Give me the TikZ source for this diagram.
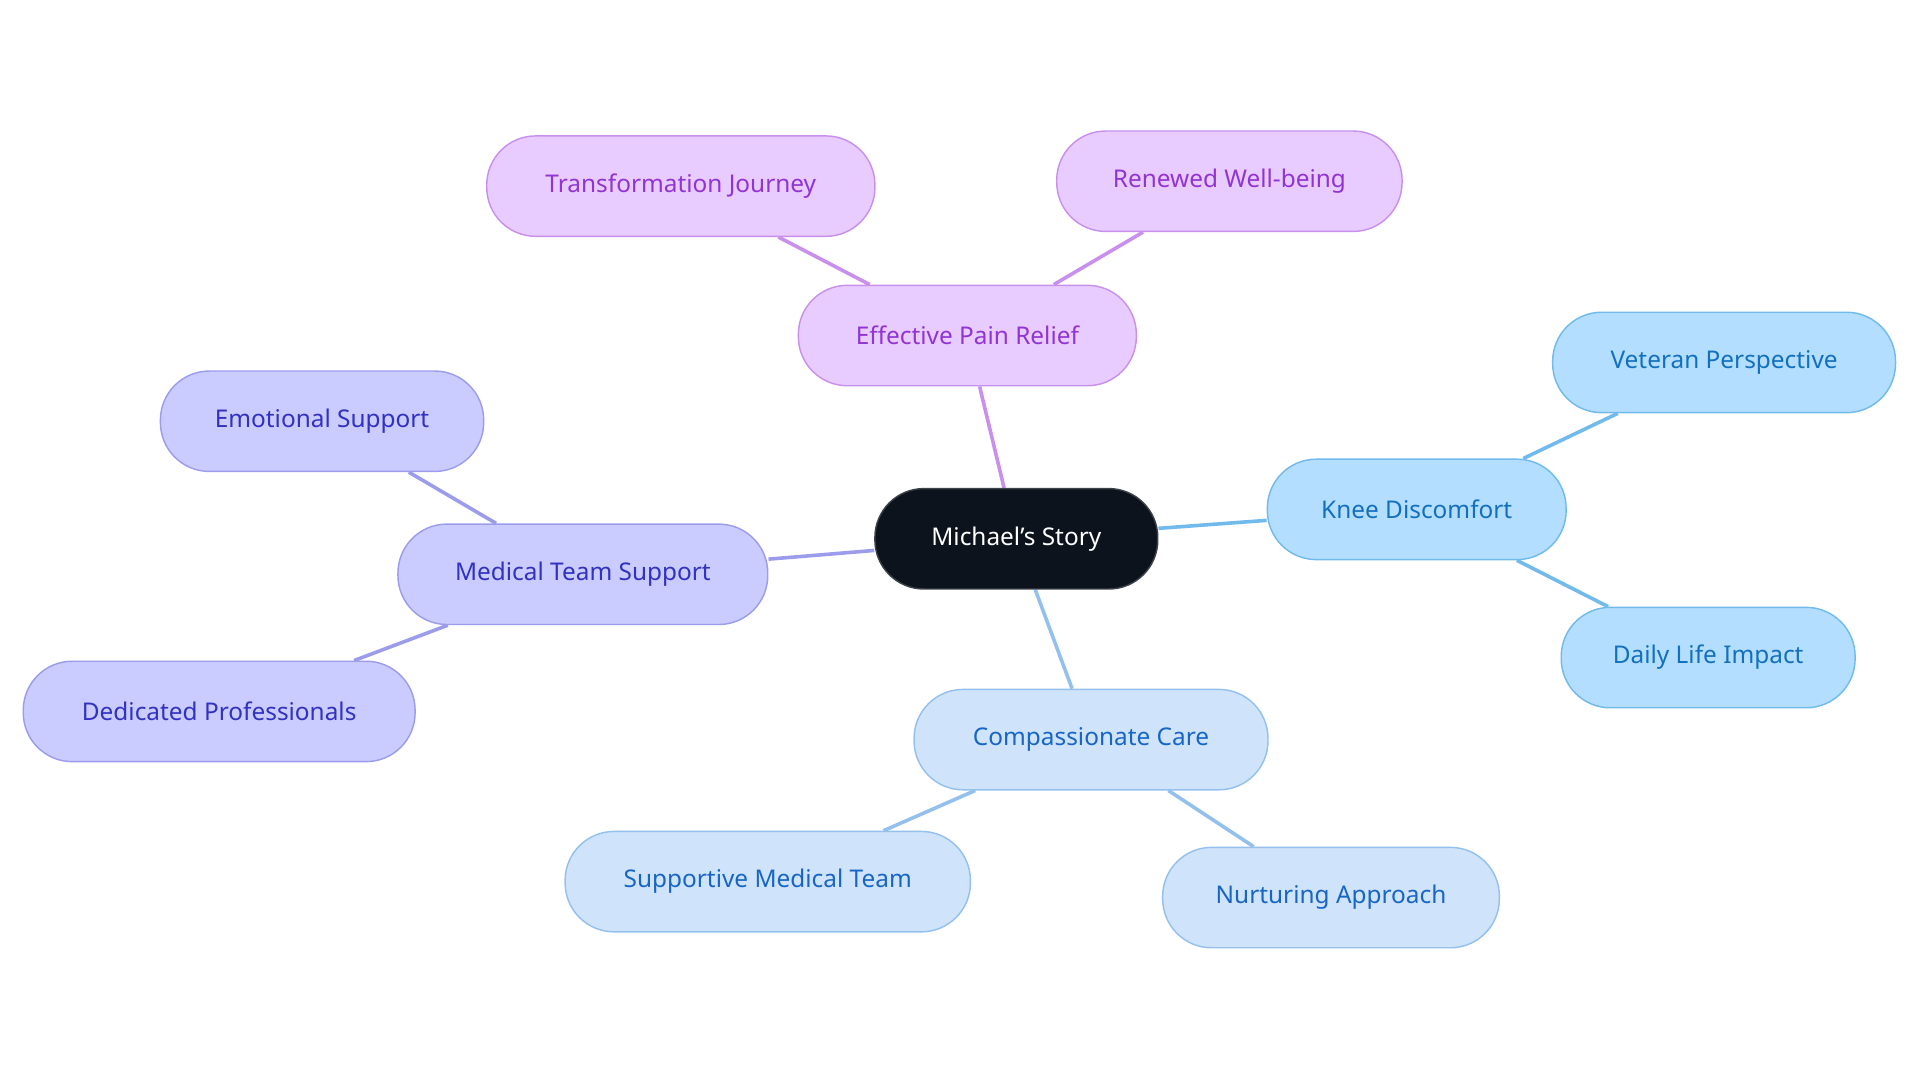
\documentclass[tikz,border=0pt]{standalone}
\usepackage{fontspec}
\setmainfont{Noto Sans}
\usepackage{tikz}
\usetikzlibrary{backgrounds}
\definecolor{ink}{HTML}{0D131C}
\definecolor{purplefill}{HTML}{E8CCFF}
\definecolor{purpleline}{HTML}{C890EC}
\definecolor{purpletext}{HTML}{9233D4}
\definecolor{skyfill}{HTML}{B4DEFF}
\definecolor{skyline}{HTML}{70BAEC}
\definecolor{skytext}{HTML}{1270BE}
\definecolor{palefill}{HTML}{CFE3FA}
\definecolor{paleline}{HTML}{94C0EE}
\definecolor{paletext}{HTML}{1766C6}
\definecolor{indfill}{HTML}{CACBFE}
\definecolor{indline}{HTML}{9C9CEC}
\definecolor{indtext}{HTML}{3131C2}
\tikzset{
  topic/.style={rectangle, rounded corners=1.2cm, minimum height=2.46cm,
    font=\fontsize{17}{20}\selectfont, line width=1pt, inner sep=0pt},
  root/.style={topic, fill=ink, draw=ink!80, text=white},
  purple/.style={topic, fill=purplefill, draw=purpleline, text=purpletext},
  sky/.style={topic, fill=skyfill, draw=skyline, text=skytext},
  pale/.style={topic, fill=palefill, draw=paleline, text=paletext},
  ind/.style={topic, fill=indfill, draw=indline, text=indtext},
  link/.style={line width=2.5pt}
}
\begin{document}
\begin{tikzpicture}[x=0.03cm,y=-0.03cm]
    \useasboundingbox (0,0) rectangle (1568,884);

    \node (story) at (830,440) [root, minimum width=6.93cm]{Michael's Story};

    \node (relief) at (790,274) [purple, minimum width=8.28cm]{Effective Pain Relief};
    \node (journey) at (556,152) [purple, minimum width=9.51cm]{Transformation Journey};
    \node (renewed) at (1004,148) [purple, minimum width=8.46cm]{Renewed Well-being};

    \node (knee) at (1157,416) [sky, minimum width=7.32cm]{Knee Discomfort};
    \node (veteran) at (1408,296) [sky, minimum width=8.4cm]{Veteran Perspective};
    \node (daily) at (1395,537) [sky, minimum width=7.2cm]{Daily Life Impact};

    \node (care) at (891,604) [pale, minimum width=8.67cm]{Compassionate Care};
    \node (supportive) at (627,720) [pale, minimum width=9.93cm]{Supportive Medical Team};
    \node (nurturing) at (1087,733) [pale, minimum width=8.25cm]{Nurturing Approach};

    \node (team) at (476,469) [ind, minimum width=9.06cm]{Medical Team Support};
    \node (emotional) at (263,344) [ind, minimum width=7.92cm]{Emotional Support};
    \node (dedicated) at (179,581) [ind, minimum width=9.6cm]{Dedicated Professionals};

    \begin{scope}[on background layer]
     \draw[link, purpleline] (story) -- (relief);
     \draw[link, purpleline] (relief) -- (journey);
     \draw[link, purpleline] (relief) -- (renewed);

     \draw[link, skyline] (story) -- (knee);
     \draw[link, skyline] (knee) -- (veteran);
     \draw[link, skyline] (knee) -- (daily);

     \draw[link, paleline] (story) -- (care);
     \draw[link, paleline] (care) -- (supportive);
     \draw[link, paleline] (care) -- (nurturing);

     \draw[link, indline] (story) -- (team);
     \draw[link, indline] (team) -- (emotional);
     \draw[link, indline] (team) -- (dedicated);
    \end{scope}
\end{tikzpicture}
\end{document}
